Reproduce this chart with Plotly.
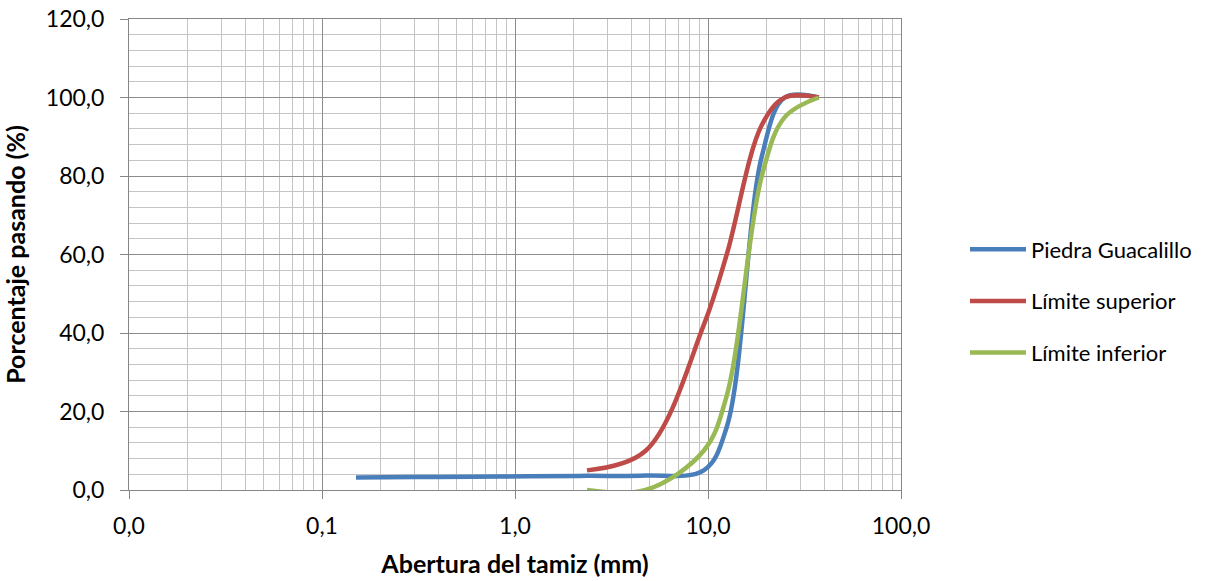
import plotly.graph_objects as go

# ---- data ----
sizes_guacalillo = [0.15, 0.3, 0.6, 1.18, 2.36, 4.75, 9.5, 12.5, 19.0, 25.0, 37.5]
pass_guacalillo = [3.2, 3.3, 3.4, 3.5, 3.6, 3.7, 5.0, 16.0, 85.0, 100.0, 100.0]

sizes_limits = [2.36, 4.75, 9.5, 12.5, 19.0, 25.0, 37.5]
pass_upper = [5.0, 10.0, 42.0, 60.0, 93.0, 100.0, 100.0]
pass_lower = [0.0, 0.0, 10.0, 24.0, 80.0, 95.0, 100.0]

x_tick_vals = [0.01, 0.1, 1, 10, 100]
x_tick_text = ["0,0", "0,1", "1,0", "10,0", "100,0"]
y_tick_vals = [0, 20, 40, 60, 80, 100, 120]
y_tick_text = ["0,0", "20,0", "40,0", "60,0", "80,0", "100,0", "120,0"]

series_names = ["Piedra Guacalillo", "Límite superior", "Límite inferior"]
colors = ["#4A7EBB", "#BE4B48", "#98B954"]

FONT = "Lato"
W, H = 1223, 581
L, R, T, B = 129, 901, 19, 490

minor_x = [m * 10 ** e for e in range(-2, 2) for m in range(2, 10)]

fig = go.Figure()
for name, xs, ys, col in [
    (series_names[0], sizes_guacalillo, pass_guacalillo, colors[0]),
    (series_names[1], sizes_limits, pass_upper, colors[1]),
    (series_names[2], sizes_limits, pass_lower, colors[2]),
]:
    fig.add_trace(go.Scatter(
        x=xs, y=ys, name=name, mode="lines", legendgroup=name,
        cliponaxis=False,
        line=dict(color=col, width=4.5, shape="spline", smoothing=1.0),
    ))

fig.update_layout(
    width=W, height=H,
    margin=dict(l=L, r=W - R, t=T, b=H - B, autoexpand=False),
    paper_bgcolor="white", plot_bgcolor="white",
    font=dict(family=FONT, size=22, color="black"),
    showlegend=True,
    legend=dict(
        x=(965 - L) / (R - L), xanchor="left",
        y=(B - 301) / (B - T), yanchor="middle",
        font=dict(family=FONT, size=22, color="black"),
        tracegroupgap=20, traceorder="grouped",
        itemwidth=56,
        bgcolor="rgba(0,0,0,0)",
    ),
)

fig.update_xaxes(
    type="log", range=[-2, 2],
    tickmode="array", tickvals=x_tick_vals, ticktext=x_tick_text,
    ticks="outside", ticklen=8, tickcolor="#868686", tickwidth=1,
    ticklabelstandoff=7, ticklabeloverflow="allow",
    showgrid=True, gridcolor="#8C8C8C", gridwidth=1,
    minor=dict(tickmode="array", tickvals=minor_x, showgrid=True,
               gridcolor="#C4C4C4", gridwidth=1, ticks=""),
    showline=True, linecolor="#868686", linewidth=1, mirror=True,
    zeroline=False,
    tickfont=dict(family=FONT, size=23),
    title=dict(text="<b>Abertura del tamiz (mm)</b>", standoff=17,
               font=dict(family=FONT, size=25)),
)

fig.update_yaxes(
    range=[0, 120],
    tickmode="array", tickvals=y_tick_vals, ticktext=y_tick_text,
    ticks="outside", ticklen=8, tickcolor="#868686", tickwidth=1,
    ticklabelstandoff=11, ticklabeloverflow="allow",
    showgrid=True, gridcolor="#8C8C8C", gridwidth=1,
    minor=dict(dtick=4, showgrid=True, gridcolor="#C4C4C4", gridwidth=1, ticks=""),
    showline=True, linecolor="#868686", linewidth=1, mirror=True,
    zeroline=False,
    tickfont=dict(family=FONT, size=23),
    title=dict(text="<b>Porcentaje pasando (%)</b>", standoff=18,
               font=dict(family=FONT, size=25)),
)

fig.write_html(
    "out.html",
    config={"displayModeBar": False},
    post_script="document.body.style.margin='0';document.body.style.overflow='hidden';",
)
